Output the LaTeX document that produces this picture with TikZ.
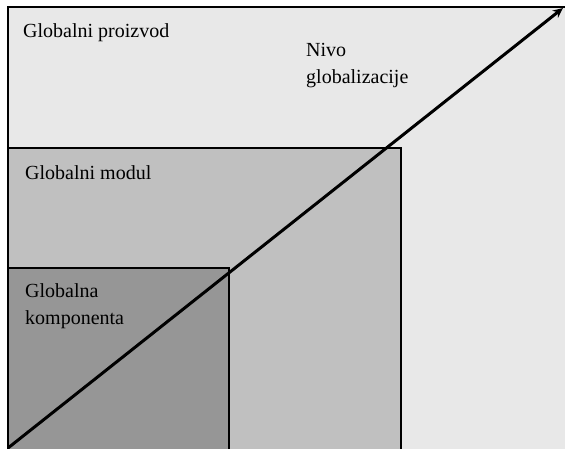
\documentclass[tikz,border=0pt]{standalone}
\usepackage{fontspec}
\setmainfont{Liberation Serif}
\usetikzlibrary{arrows.meta}
\definecolor{outerc}{HTML}{E8E8E8}
\definecolor{midc}{HTML}{C0C0C0}
\definecolor{innerc}{HTML}{969696}
\begin{document}
\begin{tikzpicture}[x=1pt,y=-1pt,
  box/.style={draw=black,line width=2pt},
  lbl/.style={anchor=base west,inner sep=0pt,font=\fontsize{20}{26.5}\selectfont,align=left}]
\useasboundingbox (0,0) rectangle (565,448);
\fill[white] (0,0) rectangle (565,448);
\begin{scope}
\clip (0,0) rectangle (565,448);
\filldraw[box,fill=outerc] (8,7) rectangle (580,460);
\filldraw[box,fill=midc] (8,148) rectangle (401,460);
\filldraw[box,fill=innerc] (8,268) rectangle (229,460);
\end{scope}
\node[lbl] (gp) at (23,37) {Globalni proizvod};
\node[lbl] (nivo) at (306,83) {Nivo\\globalizacije};
\node[lbl] (gm) at (25,179) {Globalni modul};
\node[lbl] (gk) at (25,324) {Globalna\\komponenta};
\coordinate (s) at (8,448);
\coordinate (e) at (563,8);
\draw[line width=3pt,-{Stealth[length=10pt,width=9pt]}] (s) -- (e);
\end{tikzpicture}
\end{document}
